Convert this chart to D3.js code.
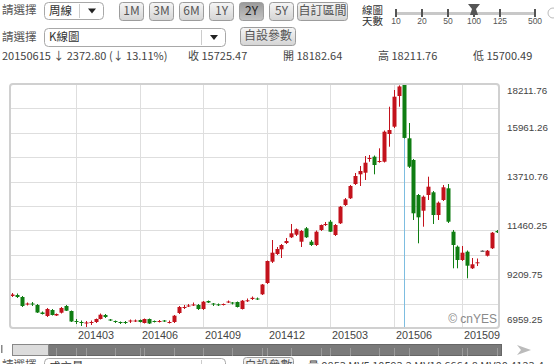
<!DOCTYPE html>
<html>
<head>
<meta charset="utf-8">
<script src="https://cdn.jsdelivr.net/npm/d3@7"></script>
<style>
  body { margin: 0; background: #fff; }
  svg { display: block; }
  text { font-family: "Liberation Sans", Arial, "Noto Sans CJK TC", sans-serif; fill: #333; }
  .cjk { font-family: "Noto Sans CJK TC", "Liberation Sans", sans-serif; }
</style>
</head>
<body>
<script>
// weekly K-line, 2Y view
const dates = [
  "2013-12-02","2013-12-09","2013-12-16","2013-12-23","2013-12-30",
  "2014-01-06","2014-01-13","2014-01-20","2014-01-27","2014-02-03","2014-02-10","2014-02-17","2014-02-24",
  "2014-03-03","2014-03-10","2014-03-17","2014-03-24","2014-03-31","2014-04-07","2014-04-14","2014-04-21","2014-04-28",
  "2014-05-05","2014-05-12","2014-05-19","2014-05-26","2014-06-02","2014-06-09","2014-06-16","2014-06-23","2014-06-30",
  "2014-07-07","2014-07-14","2014-07-21","2014-07-28","2014-08-04","2014-08-11","2014-08-18","2014-08-25",
  "2014-09-01","2014-09-08","2014-09-15","2014-09-22","2014-09-29","2014-10-06","2014-10-13","2014-10-20","2014-10-27",
  "2014-11-03","2014-11-10","2014-11-17","2014-11-24","2014-12-01","2014-12-08","2014-12-15","2014-12-22","2014-12-29",
  "2015-01-05","2015-01-12","2015-01-19","2015-01-26","2015-02-02","2015-02-09","2015-02-16","2015-02-23",
  "2015-03-02","2015-03-09","2015-03-16","2015-03-23","2015-03-30","2015-04-06","2015-04-13","2015-04-20","2015-04-27",
  "2015-05-04","2015-05-11","2015-05-18","2015-05-25","2015-06-01","2015-06-08","2015-06-15","2015-06-22","2015-06-29",
  "2015-07-06","2015-07-13","2015-07-20","2015-07-27","2015-08-03","2015-08-10","2015-08-17","2015-08-24",
  "2015-08-31","2015-09-07","2015-09-14","2015-09-21","2015-09-28","2015-10-05","2015-10-12","2015-10-19","2015-10-26"
];
const open = [
  8435,8481,8389,8043,8089, 8020,7674,7513,7789,7536,7665,7974,7743,
  7282,7236,7190,7213,7236,7374,7559,7351,7282, 7236,7236,7259,7282,7328,7190,7374,7282,7259,
  7305,7213,7236,7651,7905,7951,8020,8020, 7835,8204,8089,8052,8043,8135,8135,8158,7835,
  8204,8297,8320,8513,9034,10017,10372,10589,10879, 11142,11262,10939,11557,10939,10787,11479,11709,
  11861,11248,11788,12632,12941,13600,14047,14121,14753, 14859,14615,14628,15906,16243,17658,18182.64,15708,14707,
  13093,12369,13093,13217,12170,12862,13402,11400, 10709,10095,10478,9712,9943,10524,10293,10635,11433
];
const high = [
  8573,8550,8435,8135,8158, 8066,7720,7882,7835,7628,7928,8020,7766,
  7374,7305,7282,7305,7397,7628,7605,7374,7305, 7259,7282,7351,7351,7351,7397,7397,7305,7328,
  7328,7305,7559,7974,8020,8066,8135,8066, 8204,8227,8112,8089,8089,8227,8158,8181,8250,
  8320,8412,8366,8988,10072,11017,10695,10833,11110, 11755,11548,11479,11617,11017,11456,11732,11848,
  11940,11755,12585,12954,13554,14107,14430,14891,14937, 14914,15246,16067,17165,17935,18150,18211.76,16413,14753,
  13139,13070,13937,13277,12793,13554,13600,11479, 10764,10741,10533,10187,10164,10535,10556,11386,11479
];
const low = [
  8389,8343,7928,7997,7974, 7651,7582,7466,7536,7513,7628,7743,7236,
  7144,7051,6959.25,7098,7190,7351,7420,7282,7190, 7144,7144,7190,7236,7213,7167,7144,7213,7213,
  7236,7167,7190,7605,7835,7928,7974,7789, 7789,8112,7974,7974,7997,8112,8043,7905,7812,
  8158,8250,8250,8481,8988,9957,10326,10187,10833, 11110,11202,10695,11110,10741,10741,11433,11663,
  11386,11202,11755,12585,12908,13554,13508,13785,14628, 14047,14582,14592,15320,16183,17165,15700.49,14338,11940,
  10865,11631,12862,11755,11940,12816,11801,9712, 9712,10049,9251,9680,9818,10513,10257,10602,11340
];
const close = [
  8504,8389,7974,8089,8043, 7674,7605,7835,7559,7605,7882,7757,7259,
  7259,7213,7213,7236,7374,7573,7466,7305,7236, 7190,7213,7305,7305,7236,7374,7167,7236,7282,
  7259,7236,7526,7928,7928,7997,8043,7835, 8172,8135,8066,8029,8066,8181,8112,7928,8218,
  8237,8352,8297,8965,10049,10432,10602,10787,10971, 11326,11511,11433,11142,10787,11400,11709,11755,
  11400,11709,12553,12894,13508,13969,14200,14582,14799, 14476,14661,16012,16090,17626,18098.27,15725.47,14398,12249,
  12064,13014,13476,12170,12738,13448,11861,10787, 10095,10432,9832,9897,9989,10524,10524,11354,11373
];
const yTicks = [6959.25, 9209.75, 11460.25, 13710.76, 15961.26, 18211.76];
const monthTicks = ["201403","201406","201409","201412","201503","201506","201509"];
const cursorDate = "2015-06-15";

const headerInfo = ["20150615 \u2193 2372.80 (\u2193 13.11%)", "\u6536 15725.47", "\u958b 18182.64", "\u9ad8 18211.76", "\u4f4e 15700.49"];
const rangeButtons = ["1M", "3M", "6M", "1Y", "2Y", "5Y"];
const sliderTicks = ["10", "20", "50", "100", "125", "500"];

const W = 554, H = 364;
const plot = {left: 10, right: 499, top: 84, bottom: 328};
const upColor = "#c3121c", downColor = "#0f7d12";

const svg = d3.select("body").append("svg")
    .attr("width", W)
    .attr("height", H);

const defs = svg.append("defs");
const btnGrad = defs.append("linearGradient").attr("id", "btn").attr("x1", 0).attr("x2", 0).attr("y1", 0).attr("y2", 1);
btnGrad.append("stop").attr("offset", "0%").attr("stop-color", "#f6f6f6");
btnGrad.append("stop").attr("offset", "100%").attr("stop-color", "#d4d4d4");
const btnDown = defs.append("linearGradient").attr("id", "btnDown").attr("x1", 0).attr("x2", 0).attr("y1", 0).attr("y2", 1);
btnDown.append("stop").attr("offset", "0%").attr("stop-color", "#9a9a9a");
btnDown.append("stop").attr("offset", "100%").attr("stop-color", "#c4c4c4");

// ---- toolbar helpers
function button(x, y, w, h, label, pressed) {
    const g = svg.append("g");
    g.append("rect")
        .attr("x", x + 0.5).attr("y", y + 0.5)
        .attr("width", w).attr("height", h)
        .attr("rx", 3)
        .attr("fill", pressed ? "url(#btnDown)" : "url(#btn)")
        .attr("stroke", "#9c9c9c");
    g.append("text")
        .attr("class", "cjk")
        .attr("x", x + w / 2 + 0.5).attr("y", y + h / 2 + 1)
        .attr("text-anchor", "middle")
        .attr("dominant-baseline", "middle")
        .style("font-size", "12px")
        .style("fill", pressed ? "#222" : "#555")
        .text(label);
}

function selectBox(x, y, w, h, label) {
    const g = svg.append("g");
    g.append("rect")
        .attr("x", x + 0.5).attr("y", y + 0.5)
        .attr("width", w).attr("height", h)
        .attr("rx", 4)
        .attr("fill", "#fff")
        .attr("stroke", "#a8a8a8");
    g.append("line")
        .attr("x1", x + w - 23.5).attr("x2", x + w - 23.5)
        .attr("y1", y + 2).attr("y2", y + h - 1)
        .attr("stroke", "#ccc");
    const ax = x + w - 11, ay = y + h / 2;
    g.append("path")
        .attr("d", `M${ax - 4},${ay - 2}L${ax + 4},${ay - 2}L${ax},${ay + 3}Z`)
        .attr("fill", "#222");
    g.append("text")
        .attr("class", "cjk")
        .attr("x", x + 5).attr("y", y + h / 2 + 1)
        .attr("dominant-baseline", "middle")
        .style("font-size", "11.5px")
        .text(label);
}

function label(x, y, txt, size) {
    return svg.append("text")
        .attr("class", "cjk")
        .attr("x", x).attr("y", y)
        .attr("dominant-baseline", "middle")
        .style("font-size", (size || 11.5) + "px")
        .style("fill", "#555")
        .text(txt);
}

// row 1
label(2, 11, "\u8acb\u9078\u64c7");
selectBox(44, 2, 59, 17, "\u5468\u7dda");
const btnX = [119, 149, 179, 209, 239, 269];
rangeButtons.forEach((b, k) => button(btnX[k], 2, 24, 18, b, b === "2Y"));
button(297, 2, 50, 18, "\u81ea\u8a02\u5340\u9593", false);

// two-line caption as one text block
const cap = svg.append("text")
    .attr("class", "cjk")
    .attr("x", 362).attr("y", 13.5)
    .style("font-size", "10.5px")
    .style("fill", "#333");
cap.append("tspan").attr("x", 362).attr("dy", 0).text("\u7dda\u5716");
cap.append("tspan").attr("x", 362).attr("dy", 11.5).text("\u5929\u6578");

// day-count slider
const sliderPos = {"10": 396, "20": 422, "50": 448, "100": 474, "125": 500, "500": 535};
svg.append("rect").attr("x", 396).attr("y", 12).attr("width", 139).attr("height", 3).attr("fill", "#c8c8c8");
sliderTicks.forEach(t => {
    svg.append("rect").attr("x", sliderPos[t] - 1).attr("y", 9).attr("width", 2).attr("height", 8).attr("fill", "#555");
    svg.append("text")
        .attr("x", sliderPos[t]).attr("y", 22)
        .attr("text-anchor", "middle")
        .attr("dominant-baseline", "middle")
        .style("font-size", "8.5px")
        .style("fill", "#555")
        .text(t);
});
svg.append("path")
    .attr("d", "M468,4L480,4L476,9L478,15L470,15L472,9Z")
    .attr("fill", "#555");
svg.append("circle").attr("cx", 553).attr("cy", 13).attr("r", 5).attr("fill", "none").attr("stroke", "#bbb");

// row 2
label(2, 38, "\u8acb\u9078\u64c7");
selectBox(44, 28, 181, 18, "K\u7dda\u5716");
button(240, 27, 55, 18, "\u81ea\u8a2d\u53c3\u6578", false);

// row 3 - quote line
const infoX = [2, 188, 283, 378, 473];
headerInfo.forEach((t, k) => {
    svg.append("text")
        .attr("class", "cjk")
        .attr("x", infoX[k]).attr("y", 57)
        .attr("dominant-baseline", "middle")
        .style("font-size", "11px")
        .style("fill", "#444")
        .text(t);
});

// ---- chart
const x = d3.scaleBand()
    .domain(dates)
    .range([plot.left, plot.right])
    .paddingInner(0.3)
    .paddingOuter(0.15);
const cx = d => x(d) + x.bandwidth() / 2;

const y = d3.scaleLinear()
    .domain([yTicks[0], yTicks[yTicks.length - 1]])
    .range([plot.bottom, plot.top]);

const g = svg.append("g");

// horizontal grid (half steps between labels)
const gridVals = d3.range(0, 11).map(k => yTicks[0] + k * (yTicks[5] - yTicks[0]) / 10);
g.selectAll("line.hgrid")
    .data(gridVals.slice(1, -1))
    .enter().append("line")
    .attr("class", "hgrid")
    .attr("x1", plot.left).attr("x2", plot.right)
    .attr("y1", d => Math.round(y(d)) + 0.5)
    .attr("y2", d => Math.round(y(d)) + 0.5)
    .attr("stroke", "#dedede");

// vertical grid at first week of each quarter-month
const monthStarts = monthTicks.map(m => {
    const ym = m.slice(0, 4) + "-" + m.slice(4, 6);
    return dates.find(d => d.slice(0, 7) === ym);
});
g.selectAll("line.vgrid")
    .data(monthStarts)
    .enter().append("line")
    .attr("class", "vgrid")
    .attr("x1", d => Math.round(cx(d)) + 0.5)
    .attr("x2", d => Math.round(cx(d)) + 0.5)
    .attr("y1", plot.top).attr("y2", plot.bottom)
    .attr("stroke", "#dedede");

// cursor line
g.append("line")
    .attr("x1", Math.round(cx(cursorDate)) + 0.5)
    .attr("x2", Math.round(cx(cursorDate)) + 0.5)
    .attr("y1", plot.top).attr("y2", plot.bottom)
    .attr("stroke", "#7dbde0");

// candles
const candles = dates.map((d, k) => ({date: d, o: open[k], h: high[k], l: low[k], c: close[k]}));
const colorOf = d => d.c > d.o ? upColor : (d.c < d.o ? downColor : "#333");

const cg = g.selectAll("g.candle")
    .data(candles)
    .enter().append("g")
    .attr("class", "candle");

cg.append("line")
    .attr("x1", d => Math.round(cx(d.date)) + 0.5)
    .attr("x2", d => Math.round(cx(d.date)) + 0.5)
    .attr("y1", d => y(d.h))
    .attr("y2", d => y(d.l))
    .attr("stroke", colorOf);

cg.append("rect")
    .attr("x", d => Math.round(cx(d.date)) - 1.5)
    .attr("width", 4)
    .attr("y", d => y(Math.max(d.o, d.c)))
    .attr("height", d => Math.max(1, Math.abs(y(d.o) - y(d.c))))
    .attr("fill", colorOf);

// frame
svg.append("rect")
    .attr("x", plot.left).attr("y", plot.top)
    .attr("width", plot.right - plot.left)
    .attr("height", plot.bottom - plot.top)
    .attr("rx", 3)
    .attr("fill", "none")
    .attr("stroke", "#d0d0d0")
    .attr("stroke-width", 2);

// y labels
svg.selectAll("text.ylab")
    .data(yTicks)
    .enter().append("text")
    .attr("class", "ylab")
    .attr("x", 507)
    .attr("y", d => Math.min(320, Math.max(91, y(d) - 4)))
    .attr("dominant-baseline", "middle")
    .style("font-size", "9.8px")
    .style("fill", "#444")
    .text(d => d3.format(".2f")(d));

// x labels
svg.selectAll("text.xlab")
    .data(monthStarts)
    .enter().append("text")
    .attr("class", "xlab")
    .attr("x", d => Math.round(cx(d)) + 2)
    .attr("y", 336)
    .attr("dominant-baseline", "middle")
    .style("font-size", "10.8px")
    .style("fill", "#444")
    .text((d, k) => monthTicks[k]);

// watermark
svg.append("text")
    .attr("x", 497).attr("y", 320)
    .attr("text-anchor", "end")
    .attr("dominant-baseline", "middle")
    .style("font-size", "12px")
    .style("fill", "#8a8a8a")
    .text("\u00a9 cnYES");

// ---- scrollbar
svg.append("rect").attr("x", 1).attr("y", 345).attr("width", 1.5).attr("height", 8).attr("fill", "#888");
svg.append("rect").attr("x", 12.5).attr("y", 344.5).attr("width", 489).attr("height", 11)
    .attr("fill", "#7a7a7a").attr("stroke", "#666");
const sbTicks = monthStarts.concat(dates.filter((d, k) => k % 6 === 3));
svg.selectAll("line.sb")
    .data(sbTicks)
    .enter().append("line")
    .attr("x1", d => Math.round(cx(d)) + 0.5)
    .attr("x2", d => Math.round(cx(d)) + 0.5)
    .attr("y1", 348).attr("y2", 356)
    .attr("stroke", "#9a9a9a");
svg.append("rect").attr("x", 12.5).attr("y", 344.5).attr("width", 36).attr("height", 11)
    .attr("fill", "#dcdcdc").attr("stroke", "#888");
svg.append("path").attr("d", "M517,345L531,350L517,355L521,350Z").attr("fill", "#bbb");

// ---- cut-off bottom row
label(2, 366, "\u8acb\u9078\u64c7");
selectBox(44, 358, 181, 18, "\u6210\u4ea4\u91cf");
button(243, 357, 50, 18, "\u81ea\u8a2d\u53c3\u6578", false);
svg.append("text")
    .attr("class", "cjk")
    .attr("x", 308).attr("y", 367)
    .attr("dominant-baseline", "middle")
    .style("font-size", "11px")
    .style("fill", "#444")
    .text("\u91cf 9853  MV5 10593.2  MV10 6664.8  MV20 4123.4");
</script>
</body>
</html>
